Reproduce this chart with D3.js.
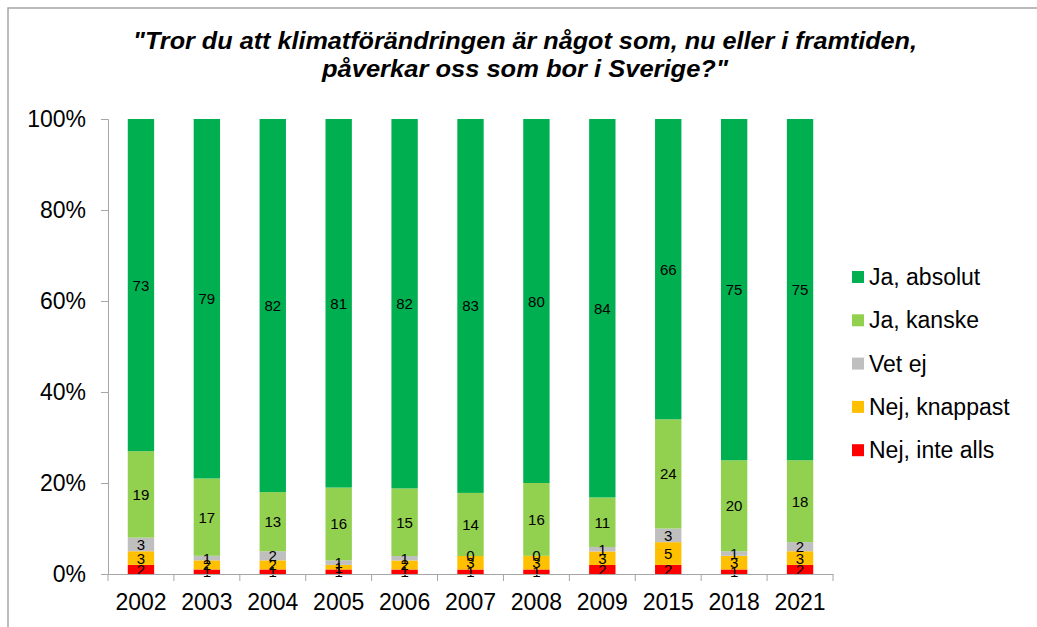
<!DOCTYPE html>
<meta charset="utf-8">
<style>
body { margin: 0; background: #fff; font-family: Arial, "Liberation Sans", sans-serif; }
.frame { fill: none; stroke: #a6a6a6; stroke-width: 1.5; }
.axis path, .axis line { stroke: #a6a6a6; }
.axis text { font-size: 23px; fill: #000; font-family: Arial, "Liberation Sans", sans-serif; }
.title { font-size: 24px; font-weight: bold; font-style: italic; text-anchor: middle; }
.lbl { font-size: 15px; text-anchor: middle; fill: #000; }
.legend text { font-size: 23px; fill: #000; }
</style>
<body>
<script src="https://cdn.jsdelivr.net/npm/d3@7"></script>
<script>
// survey years
var years = ["2002", "2003", "2004", "2005", "2006", "2007", "2008", "2009", "2015", "2018", "2021"];

// answers per year (percent, as labelled)
var nejInteAlls   = [2, 1, 1, 1, 1, 1, 1, 2, 2, 1, 2];
var nejKnappast   = [3, 2, 2, 1, 2, 3, 3, 3, 5, 3, 3];
var vetEj         = [3, 1, 2, 1, 1, 0, 0, 1, 3, 1, 2];
var jaKanske      = [19, 17, 13, 16, 15, 14, 16, 11, 24, 20, 18];
var jaAbsolut     = [73, 79, 82, 81, 82, 83, 80, 84, 66, 75, 75];

var seriesNames = ["Nej, inte alls", "Nej, knappast", "Vet ej", "Ja, kanske", "Ja, absolut"];
var seriesVals = [nejInteAlls, nejKnappast, vetEj, jaKanske, jaAbsolut];
var colors = ["#ff0000", "#ffc000", "#bfbfbf", "#92d050", "#00b050"];
var yTicks = [0, 0.2, 0.4, 0.6, 0.8, 1];

var W = 1037, H = 627;
var svg = d3.select("body").append("svg").attr("width", W).attr("height", H);

svg.append("rect").attr("class", "frame")
    .attr("x", 8).attr("y", 8).attr("width", 1040).attr("height", 640);

// title, stretched a bit to match the original's wide lettering
svg.append("text").attr("class", "title").attr("x", 525).attr("y", 49)
    .attr("textLength", 784).attr("lengthAdjust", "spacingAndGlyphs")
    .text("\"Tror du att klimatförändringen är något som, nu eller i framtiden,");
svg.append("text").attr("class", "title").attr("x", 525).attr("y", 77)
    .attr("textLength", 406).attr("lengthAdjust", "spacingAndGlyphs")
    .text("påverkar oss som bor i Sverige?\"");

var x = d3.scaleBand().domain(years).range([108, 833]).paddingInner(0).paddingOuter(0);
var y = d3.scaleLinear().domain([0, 1]).range([574, 119]);

// rows for stacking, normalised to 100%
var rows = years.map(function(yr, i) {
  var r = { year: yr };
  var tot = 0;
  seriesVals.forEach(function(v) { tot += v[i]; });
  seriesNames.forEach(function(n, k) { r[n] = seriesVals[k][i] / tot; r["raw" + k] = seriesVals[k][i]; });
  return r;
});
var stack = d3.stack().keys(seriesNames)(rows);

var barW = x.bandwidth() * 0.4;

var layers = svg.selectAll(".layer").data(stack).enter().append("g")
    .attr("fill", function(d, k) { return colors[k]; });
layers.selectAll("rect").data(function(d) { return d; }).enter().append("rect")
    .attr("x", function(d) { return x(d.data.year) + (x.bandwidth() - barW) / 2; })
    .attr("width", barW)
    .attr("y", function(d) { return y(d[1]); })
    .attr("height", function(d) { return y(d[0]) - y(d[1]); });

stack.forEach(function(layer, k) {
  svg.append("g").selectAll("text").data(layer).enter().append("text")
      .attr("class", "lbl")
      .attr("x", function(d) { return x(d.data.year) + x.bandwidth() / 2; })
      .attr("y", function(d) { return (y(d[0]) + y(d[1])) / 2 + 5.5; })
      .text(function(d) { return d.data["raw" + k]; });
});

svg.append("g").attr("class", "axis")
    .attr("transform", "translate(108,0)")
    .call(d3.axisLeft(y).tickValues(yTicks).tickFormat(d3.format(".0%")).tickSize(7).tickPadding(15));

var xAxis = svg.append("g").attr("class", "axis")
    .attr("transform", "translate(0,574)")
    .call(d3.axisBottom(x).tickSize(0).tickPadding(20));
xAxis.selectAll(".tick line").remove();
// category separators
xAxis.selectAll(".sep").data(years.concat(["end"])).enter().append("line")
    .attr("x1", function(d, i) { return 108 + i * x.step(); })
    .attr("x2", function(d, i) { return 108 + i * x.step(); })
    .attr("y1", 0).attr("y2", 7).attr("stroke", "#a6a6a6");

var legend = svg.append("g").attr("class", "legend");
var legOrder = [4, 3, 2, 1, 0];
legOrder.forEach(function(k, i) {
  var ly = 277 + i * 43.3;
  legend.append("rect").attr("x", 852).attr("y", ly - 6).attr("width", 12).attr("height", 12).attr("fill", colors[k]);
  legend.append("text").attr("x", 869).attr("y", ly + 8).text(seriesNames[k]);
});
</script>
</body>
